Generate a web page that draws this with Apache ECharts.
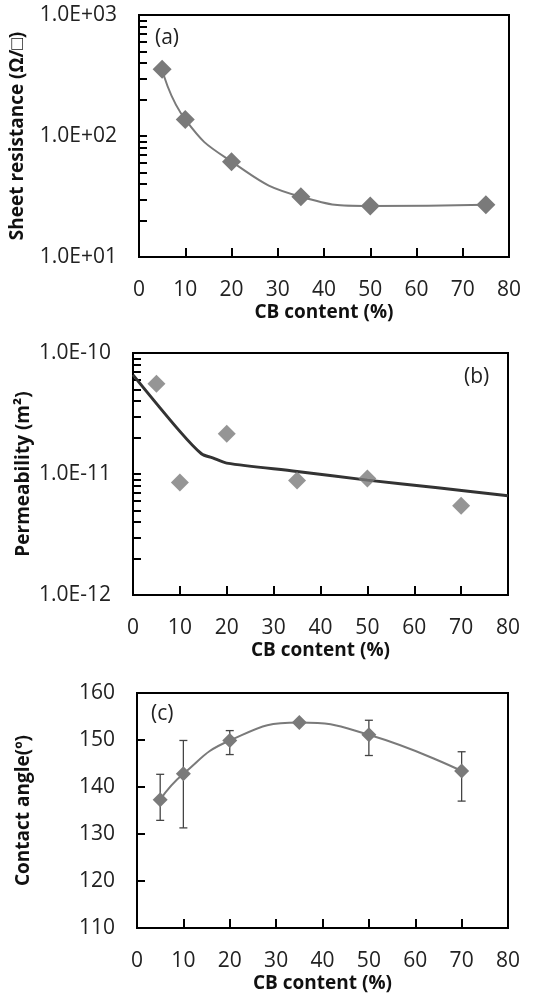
<!DOCTYPE html>
<html>
<head>
<meta charset="utf-8">
<script src="https://cdn.jsdelivr.net/npm/echarts@6/dist/echarts.min.js"></script>
<style>
  html, body { margin: 0; padding: 0; background: #fff; }
  #chart { width: 541px; height: 1002px; }
</style>
</head>
<body>
<div id="chart"></div>
<script>
// (a) sheet resistance
const cbA = [5, 10, 20, 35, 50, 75];
const resistance = [356, 137, 61.4, 31.5, 26.4, 27.0];

// (b) permeability: measured points and fitted line
const cbB = [5, 10, 20, 35, 50, 70];
const permeability = [5.57e-11, 8.5e-12, 2.15e-11, 8.85e-12, 9.2e-12, 5.47e-12];
const fitX = [0, 10, 14.6, 17, 20, 35, 50, 65, 80];
const fitY = [6.6e-11, 2.25e-11, 1.47e-11, 1.36e-11, 1.23e-11, 1.05e-11, 8.9e-12, 7.7e-12, 6.6e-12];

// (c) contact angle with error bars
const cbC = [5, 10, 20, 35, 50, 70];
const angle = [137.3, 142.8, 149.9, 153.7, 151.1, 143.4];
const angleHigh = [142.7, 149.9, 152.0, 154.0, 154.2, 147.5];
const angleLow = [132.9, 131.3, 146.9, 153.4, 146.7, 137.0];

// log-axis tick positions (majors + 2..9 minors)
const ticksA = [10, 20, 30, 40, 50, 60, 70, 80, 90, 100, 200, 300, 400, 500, 600, 700, 800, 900, 1000];
const ticksB = [1e-12, 2e-12, 3e-12, 4e-12, 5e-12, 6e-12, 7e-12, 8e-12, 9e-12, 1e-11,
  2e-11, 3e-11, 4e-11, 5e-11, 6e-11, 7e-11, 8e-11, 9e-11, 1e-10];

const FONT = "'Open Sans', sans-serif";
const GRAY = "#7a7a7a";

// 1.0E+03 style labels
function sci(v) {
  const e = Math.round(Math.log10(v));
  const m = v / Math.pow(10, e);
  const ee = Math.abs(e) < 10 ? "0" + Math.abs(e) : String(Math.abs(e));
  return m.toFixed(1) + "E" + (e < 0 ? "-" : "+") + ee;
}

const chart = echarts.init(document.getElementById("chart"), null, { renderer: "canvas" });

function xAxisCfg(gridIndex) {
  return {
    gridIndex,
    type: "value",
    min: 0,
    max: 80,
    interval: 10,
    name: "CB content (%)",
    nameLocation: "middle",
    nameGap: 46,
    nameMoveOverlap: false,
    nameTextStyle: { fontFamily: FONT, fontSize: 19, fontWeight: "bold", color: "#111" },
    axisLine: { show: true, onZero: false, lineStyle: { color: "#000", width: 2 } },
    axisTick: { show: true, inside: true, length: 9, lineStyle: { color: "#000", width: 2 } },
    axisLabel: { margin: 23, fontFamily: FONT, fontSize: 21, color: "#222" },
    splitLine: { show: false },
  };
}

function yAxisCfg(gridIndex, name, gap) {
  return {
    gridIndex,
    name,
    nameLocation: "middle",
    nameGap: gap,
    nameMoveOverlap: false,
    nameTextStyle: { fontFamily: FONT, fontSize: 19, fontWeight: "bold", color: "#111" },
    axisLine: { show: true, onZero: false, lineStyle: { color: "#000", width: 2 } },
    axisTick: { show: true, inside: true, length: 8, lineStyle: { color: "#000", width: 2 } },
    axisLabel: { margin: 22, fontFamily: FONT, fontSize: 21, color: "#222" },
    splitLine: { show: false },
  };
}

const yA = yAxisCfg(0, "Sheet resistance (\u03A9/\u25A1)", 112);
Object.assign(yA, { type: "log", logBase: 10, min: 10, max: 1000 });
yA.axisTick.customValues = ticksA;
yA.axisLabel.formatter = sci;

const yB = yAxisCfg(1, "Permeability (m\u00B2)", 100);
Object.assign(yB, { type: "log", logBase: 10, min: 1e-12, max: 1e-10 });
yB.axisTick.customValues = ticksB;
yB.axisLabel.formatter = sci;

const yC = yAxisCfg(2, "Contact angle(\u00BA)", 104);
Object.assign(yC, { type: "value", min: 110, max: 160, interval: 10 });

const gridBase = { show: true, backgroundColor: "transparent", borderColor: "#000", borderWidth: 2 };

chart.setOption({
  animation: false,
  grid: [
    Object.assign({ left: 137, right: 32, top: 15, height: 242 }, gridBase),
    Object.assign({ left: 133, right: 33, top: 353, height: 242 }, gridBase),
    Object.assign({ left: 137, right: 33, top: 693, height: 235 }, gridBase),
  ],
  xAxis: [xAxisCfg(0), xAxisCfg(1), xAxisCfg(2)],
  yAxis: [yA, yB, yC],
  graphic: [
    { type: "text", left: 155, top: 28, style: { text: "(a)", font: "21px " + FONT, fill: "#222" } },
    { type: "text", left: 464, top: 367, style: { text: "(b)", font: "21px " + FONT, fill: "#222" } },
    { type: "text", left: 151, top: 704, style: { text: "(c)", font: "21px " + FONT, fill: "#222" } },
  ],
  series: [
    {
      type: "line",
      xAxisIndex: 0,
      yAxisIndex: 0,
      data: cbA.map((x, i) => [x, resistance[i]]),
      smooth: 0.5,
      symbol: "diamond",
      symbolSize: 19,
      itemStyle: { color: GRAY },
      lineStyle: { color: GRAY, width: 2 },
    },
    {
      type: "line",
      xAxisIndex: 1,
      yAxisIndex: 1,
      data: fitX.map((x, i) => [x, fitY[i]]),
      smooth: 0.3,
      showSymbol: false,
      lineStyle: { color: "#333", width: 3 },
      z: 3,
    },
    {
      type: "scatter",
      xAxisIndex: 1,
      yAxisIndex: 1,
      data: cbB.map((x, i) => [x, permeability[i]]),
      symbol: "diamond",
      symbolSize: 18,
      itemStyle: { color: GRAY },
      z: 4,
    },
    {
      // error bars
      type: "custom",
      xAxisIndex: 2,
      yAxisIndex: 2,
      data: cbC.map((x, i) => [x, angleLow[i], angleHigh[i]]),
      renderItem: (params, api) => {
        const top = api.coord([api.value(0), api.value(2)]);
        const bot = api.coord([api.value(0), api.value(1)]);
        const w = 4;
        const style = { stroke: "#444", lineWidth: 1.3 };
        return {
          type: "group",
          children: [
            { type: "line", shape: { x1: top[0], y1: top[1], x2: bot[0], y2: bot[1] }, style },
            { type: "line", shape: { x1: top[0] - w, y1: top[1], x2: top[0] + w, y2: top[1] }, style },
            { type: "line", shape: { x1: bot[0] - w, y1: bot[1], x2: bot[0] + w, y2: bot[1] }, style },
          ],
        };
      },
      z: 2,
    },
    {
      type: "line",
      xAxisIndex: 2,
      yAxisIndex: 2,
      data: cbC.map((x, i) => [x, angle[i]]),
      smooth: 0.5,
      symbol: "diamond",
      symbolSize: 15,
      itemStyle: { color: GRAY },
      lineStyle: { color: GRAY, width: 2 },
      z: 3,
    },
  ],
});
</script>
</body>
</html>
